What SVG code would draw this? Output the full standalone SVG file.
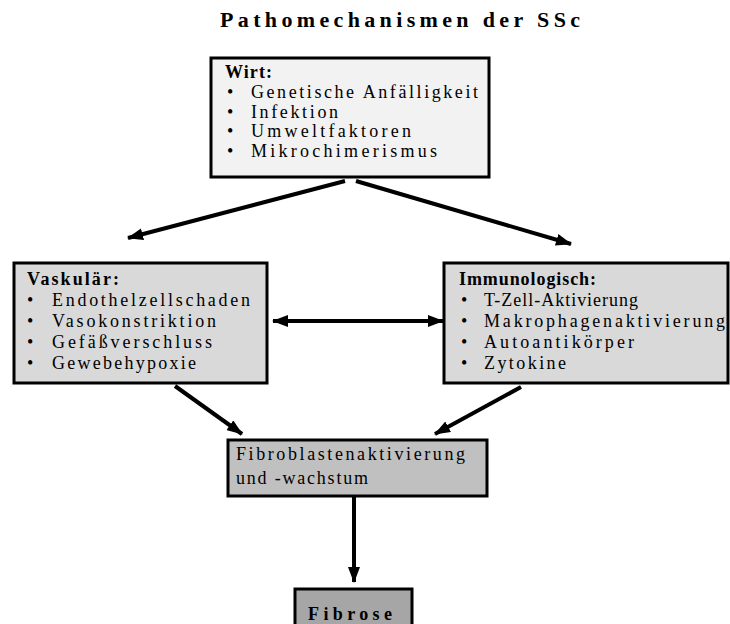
<svg xmlns="http://www.w3.org/2000/svg" width="730" height="624" viewBox="0 0 730 624">
<style>
text{font-family:"Liberation Serif","Times New Roman",serif;fill:#000;}
.t{font-size:18px;}
.b{font-weight:bold;}
.box{stroke:#000;stroke-width:3;}
.c{stroke:#000;stroke-width:4;fill:none;}
</style>
<defs>
<marker id="ah" markerWidth="16" markerHeight="12" refX="15" refY="6" orient="auto-start-reverse" markerUnits="userSpaceOnUse">
<path d="M0,0 L16,6 L0,12 Z" fill="#000"/>
</marker>
</defs>
<rect width="730" height="624" fill="#fff"/>
<text class="b" x="220" y="27" font-size="22" textLength="360" lengthAdjust="spacing">Pathomechanismen der SSc</text>
<g id="wirt">
<rect class="box" x="211" y="58" width="278" height="119" fill="#f2f2f2"/>
<text class="t b" x="225" y="78" textLength="47" lengthAdjust="spacing">Wirt:</text>
<text class="t" x="227" y="98">•</text><text class="t" x="251" y="98" textLength="227" lengthAdjust="spacing">Genetische Anfälligkeit</text>
<text class="t" x="227" y="118">•</text><text class="t" x="251" y="118" textLength="87" lengthAdjust="spacing">Infektion</text>
<text class="t" x="227" y="137">•</text><text class="t" x="251" y="137" textLength="160" lengthAdjust="spacing">Umweltfaktoren</text>
<text class="t" x="227" y="157">•</text><text class="t" x="251" y="157" textLength="186" lengthAdjust="spacing">Mikrochimerismus</text>
</g>
<g id="vaskular">
<rect class="box" x="14" y="263" width="253" height="120" fill="#d9d9d9"/>
<text class="t b" x="27" y="285" textLength="92" lengthAdjust="spacing">Vaskulär:</text>
<text class="t" x="27" y="306">•</text><text class="t" x="52" y="306" textLength="198" lengthAdjust="spacing">Endothelzellschaden</text>
<text class="t" x="27" y="327">•</text><text class="t" x="52" y="327" textLength="164" lengthAdjust="spacing">Vasokonstriktion</text>
<text class="t" x="27" y="348">•</text><text class="t" x="52" y="348" textLength="160" lengthAdjust="spacing">Gefäßverschluss</text>
<text class="t" x="27" y="369">•</text><text class="t" x="52" y="369" textLength="144" lengthAdjust="spacing">Gewebehypoxie</text>
</g>
<g id="immunologisch">
<rect class="box" x="444" y="263" width="284" height="120" fill="#d9d9d9"/>
<text class="t b" x="459" y="285" textLength="137" lengthAdjust="spacing">Immunologisch:</text>
<text class="t" x="461" y="306">•</text><text class="t" x="484" y="306" textLength="154" lengthAdjust="spacing">T-Zell-Aktivierung</text>
<text class="t" x="461" y="327">•</text><text class="t" x="484" y="327" textLength="241" lengthAdjust="spacing">Makrophagenaktivierung</text>
<text class="t" x="461" y="348">•</text><text class="t" x="484" y="348" textLength="150" lengthAdjust="spacing">Autoantikörper</text>
<text class="t" x="461" y="369">•</text><text class="t" x="484" y="369" textLength="82" lengthAdjust="spacing">Zytokine</text>
</g>
<g id="fibroblasten">
<rect class="box" x="228" y="440" width="259" height="56" fill="#c0c0c0"/>
<text class="t" x="236" y="460" textLength="229" lengthAdjust="spacing">Fibroblastenaktivierung</text>
<text class="t" x="236" y="484" textLength="132" lengthAdjust="spacing">und -wachstum</text>
</g>
<g id="fibrose">
<rect class="box" x="295" y="589" width="117" height="40" fill="#a6a6a6"/>
<text class="t b" x="308" y="620" font-size="18" textLength="84" lengthAdjust="spacing">Fibrose</text>
</g>
<g id="connectors">
<line class="c" x1="345" y1="181" x2="128" y2="238" marker-end="url(#ah)"/>
<line class="c" x1="356" y1="181" x2="571" y2="244" marker-end="url(#ah)"/>
<line class="c" x1="273" y1="321" x2="443" y2="321" marker-start="url(#ah)" marker-end="url(#ah)"/>
<line class="c" x1="175" y1="386" x2="242" y2="434" marker-end="url(#ah)"/>
<line class="c" x1="521" y1="387" x2="435" y2="434" marker-end="url(#ah)"/>
<line class="c" x1="354" y1="497" x2="354" y2="582" marker-end="url(#ah)"/>
</g>
</svg>
